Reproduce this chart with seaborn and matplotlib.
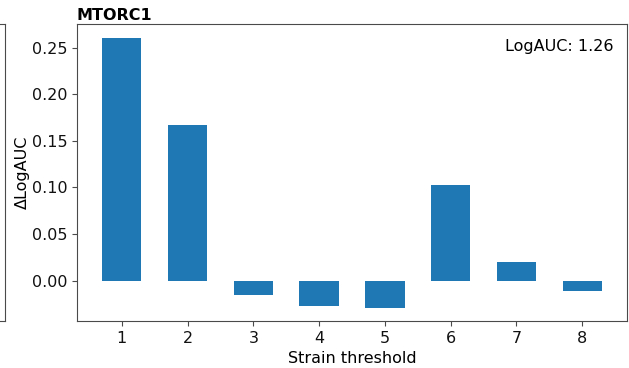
import matplotlib
matplotlib.use("Agg")
import matplotlib.pyplot as plt
import pandas as pd
import seaborn as sns

thresholds = [1, 2, 3, 4, 5, 6, 7, 8]
delta_logauc = [0.261, 0.167, -0.016, -0.027, -0.029, 0.103, 0.020, -0.011]
title = "MTORC1"
logauc = 1.26

df = pd.DataFrame({"threshold": thresholds, "delta": delta_logauc})

plt.rcParams["axes.edgecolor"] = "#4a4a4a"
plt.rcParams["xtick.color"] = "#4a4a4a"
plt.rcParams["ytick.color"] = "#4a4a4a"
plt.rcParams["xtick.labelcolor"] = "#111111"
plt.rcParams["ytick.labelcolor"] = "#111111"

fs = 11.5

fig = plt.figure(figsize=(6.29, 3.68), dpi=100)

# edge of the neighbouring panel, cut off at the left border
ax_prev = fig.add_axes([-0.5, 0.1277, 0.5 + 5 / 629, 0.807])
ax_prev.set_xticks([])
ax_prev.set_yticks([])

ax = fig.add_axes([77 / 629, 0.1277, 550 / 629, 0.807])
sns.barplot(data=df, x="threshold", y="delta", native_scale=True,
            width=0.6, color="#1f77b4", saturation=1, ax=ax)
ax.margins(x=0.05, y=0.05)
ax.autoscale_view()
ax.set_xticks(thresholds)
ax.tick_params(labelsize=fs)
ax.set_xlabel("Strain threshold", fontsize=fs)
ax.set_ylabel("ΔLogAUC", fontsize=fs, labelpad=1)
ax.set_title(title, loc="left", fontweight="bold", fontsize=fs, pad=3)
ax.text(0.975, 0.95, f"LogAUC: {logauc:.2f}", transform=ax.transAxes,
        ha="right", va="top", fontsize=fs)

fig.savefig("out.png", dpi=100)
plt.close(fig)
